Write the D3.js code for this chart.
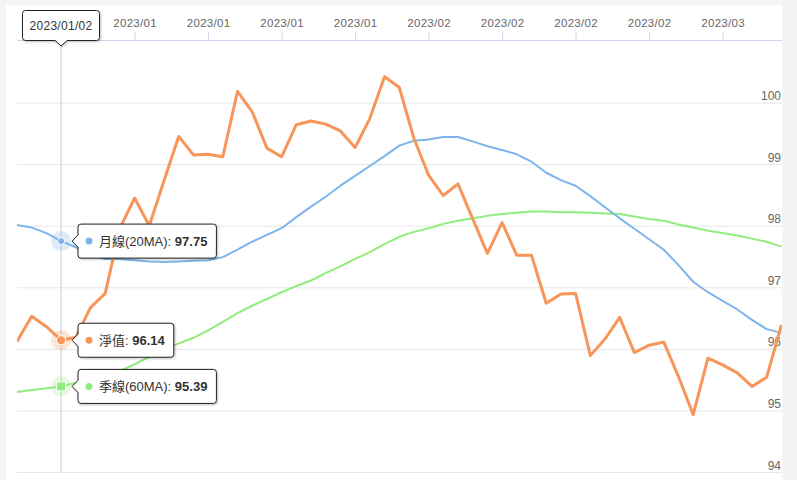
<!DOCTYPE html>
<html><head><meta charset="utf-8">
<script src="https://cdn.jsdelivr.net/npm/d3@7"></script>
<style>
html,body{margin:0;padding:0;background:#f4f4f4;}
svg{display:block;font-family:"Liberation Sans","Noto Sans CJK TC",Arial,sans-serif;}
</style></head>
<body>
<svg id="chart" width="797" height="480"></svg>
<script>
// ---- data ----
const dates = [
 "2022/12/28","2022/12/29","2022/12/30",
 "2023/01/02","2023/01/03","2023/01/04","2023/01/05","2023/01/06",
 "2023/01/09","2023/01/10","2023/01/11","2023/01/12","2023/01/13",
 "2023/01/16","2023/01/17","2023/01/18","2023/01/19","2023/01/20",
 "2023/01/23","2023/01/24","2023/01/25","2023/01/26","2023/01/27",
 "2023/01/30","2023/01/31","2023/02/01","2023/02/02","2023/02/03",
 "2023/02/06","2023/02/07","2023/02/08","2023/02/09","2023/02/10",
 "2023/02/13","2023/02/14","2023/02/15","2023/02/16","2023/02/17",
 "2023/02/20","2023/02/21","2023/02/22","2023/02/23","2023/02/24",
 "2023/02/27","2023/02/28","2023/03/01","2023/03/02","2023/03/03",
 "2023/03/06","2023/03/07","2023/03/08","2023/03/09","2023/03/10"
];
const navValues = [
 96.12,96.53,96.36,96.14,96.19,96.67,96.90,97.96,98.45,98.00,
 98.73,99.45,99.15,99.16,99.12,100.18,99.85,99.26,99.12,99.64,
 99.70,99.65,99.54,99.27,99.74,100.42,100.25,99.42,98.82,98.49,
 98.68,98.11,97.55,98.05,97.52,97.52,96.74,96.89,96.90,95.89,
 96.16,96.51,95.94,96.06,96.11,95.55,94.93,95.85,95.74,95.61,
 95.39,95.54,96.39
];
const ma20Values = [
 98.01,97.97,97.88,97.75,97.65,97.52,97.46,97.46,97.44,97.42,
 97.41,97.42,97.43,97.44,97.49,97.61,97.74,97.85,97.96,98.14,
 98.31,98.47,98.65,98.81,98.97,99.13,99.30,99.38,99.40,99.44,
 99.44,99.37,99.29,99.23,99.16,99.04,98.86,98.74,98.65,98.48,
 98.30,98.12,97.95,97.78,97.61,97.36,97.09,96.92,96.78,96.64,
 96.47,96.32,96.26
];
const ma60Values = [
 95.30,95.33,95.36,95.39,95.45,95.49,95.56,95.64,95.75,95.87,
 95.99,96.09,96.18,96.30,96.44,96.58,96.70,96.81,96.92,97.02,
 97.11,97.23,97.34,97.46,97.57,97.70,97.82,97.90,97.96,98.03,
 98.08,98.12,98.16,98.19,98.21,98.23,98.23,98.22,98.22,98.21,
 98.20,98.19,98.15,98.11,98.08,98.02,97.97,97.92,97.88,97.84,
 97.79,97.74,97.66
];
// tick at index 3 is hidden under the date tooltip in the reference
const xTickIndex = [8,13,18,23,28,33,38,43,48];
const yTicks = [94,95,96,97,98,99,100];
const seriesNames = ["月線(20MA)","淨值","季線(60MA)"];
const hoverIndex = 3;

// ---- layout ----
const svg = d3.select("#chart");
const colors = {ma20:"#7cb5ec", nav:"#f7955a", ma60:"#90ed7d"};
const plotL = 17, plotR = 782, plotT = 40, plotB = 472;

svg.append("rect").attr("x",6).attr("y",5).attr("width",776).attr("height",475).attr("fill","#ffffff");

const x = d3.scaleLinear().domain([0, dates.length-1]).range([17, 781.4]);
const y = d3.scaleLinear().domain([94, 101]).range([472, 41]);

const defs = svg.append("defs");
const f = defs.append("filter").attr("id","shadow").attr("x","-20%").attr("y","-20%").attr("width","150%").attr("height","160%");
f.append("feDropShadow").attr("dx",1).attr("dy",1).attr("stdDeviation",1.2).attr("flood-color","#000").attr("flood-opacity",0.25);
defs.append("clipPath").attr("id","clip").append("rect").attr("x",plotL).attr("y",plotT).attr("width",plotR-plotL).attr("height",plotB-plotT+2);

// grid + right labels
const yAxis = d3.axisRight(y).tickValues(yTicks).tickSize(plotR-plotL).tickFormat(d3.format("d"));
const gy = svg.append("g").attr("transform",`translate(${plotL},0)`).call(yAxis);
gy.select(".domain").remove();
gy.selectAll(".tick line").attr("stroke","#e6e6e6").attr("stroke-width",1);
gy.selectAll(".tick text").attr("x",plotR-plotL-1).attr("dy",-3).attr("text-anchor","end")
  .attr("fill","#666").style("font-size","12px").style("dominant-baseline","auto").attr("y",0);

// top x axis
const xAxis = d3.axisTop(x).tickValues(xTickIndex).tickSize(8).tickPadding(5)
  .tickFormat(i => dates[i].slice(0,7));
const gx = svg.append("g").attr("transform",`translate(0,${plotT})`).call(xAxis);
gx.select(".domain").attr("d",`M${plotL},0.5H${plotR}`).attr("stroke","#ccd6eb");
gx.selectAll(".tick line").attr("stroke","#ccd6eb");
gx.selectAll(".tick text").attr("fill","#666").style("font-size","11.5px").style("letter-spacing","0.3px");

// crosshair
svg.append("line").attr("x1",x(hoverIndex)).attr("x2",x(hoverIndex)).attr("y1",plotT).attr("y2",plotB)
  .attr("stroke","#cccccc").attr("stroke-width",1);

// lines
const line = d3.line().x((d,i)=>x(i)).y(d=>y(d));
const gl = svg.append("g").attr("clip-path","url(#clip)");
gl.append("path").datum(ma60Values).attr("d",line).attr("fill","none").attr("stroke",colors.ma60).attr("stroke-width",2).attr("stroke-linejoin","round");
gl.append("path").datum(ma20Values).attr("d",line).attr("fill","none").attr("stroke",colors.ma20).attr("stroke-width",2).attr("stroke-linejoin","round");
gl.append("path").datum(navValues).attr("d",line).attr("fill","none").attr("stroke",colors.nav).attr("stroke-width",3).attr("stroke-linejoin","round");

// hover markers
const hx = x(hoverIndex);
function halo(cy,c){ svg.append("circle").attr("cx",hx).attr("cy",cy).attr("r",10).attr("fill",c).attr("opacity",0.25); }
halo(y(ma20Values[hoverIndex]),colors.ma20);
halo(y(navValues[hoverIndex]),colors.nav);
halo(y(ma60Values[hoverIndex]),colors.ma60);
svg.append("circle").attr("cx",hx).attr("cy",y(ma20Values[hoverIndex])).attr("r",3.5).attr("fill",colors.ma20).attr("stroke","#fff").attr("stroke-width",1);
svg.append("circle").attr("cx",hx).attr("cy",y(navValues[hoverIndex])).attr("r",4.5).attr("fill",colors.nav).attr("stroke","#fff").attr("stroke-width",1);
svg.append("rect").attr("x",hx-4.5).attr("y",y(ma60Values[hoverIndex])-4.5).attr("width",9).attr("height",9).attr("fill",colors.ma60).attr("stroke","#fff").attr("stroke-width",1);

// tooltips
function sideTip(cy, color, label, value){
  const g = svg.append("g");
  const path = g.append("path");
  g.append("circle").attr("cx",89).attr("cy",cy).attr("r",3.5).attr("fill",color);
  const t = g.append("text").attr("x",99).attr("y",cy+4.5).attr("fill","#333").style("font-size","13px");
  t.append("tspan").text(label+": ");
  t.append("tspan").attr("font-weight","bold").text(value);
  const w = t.node().getComputedTextLength();
  const L = 78, R = 99 + w + 9, T = cy-17, B = cy+17, r = 3;
  const p = d3.path();
  p.moveTo(L+r,T); p.lineTo(R-r,T); p.arcTo(R,T,R,T+r,r); p.lineTo(R,B-r); p.arcTo(R,B,R-r,B,r);
  p.lineTo(L+r,B); p.arcTo(L,B,L,B-r,r); p.lineTo(L,cy+6); p.lineTo(L-6,cy); p.lineTo(L,cy-6);
  p.lineTo(L,T+r); p.arcTo(L,T,L+r,T,r); p.closePath();
  path.attr("d",p.toString()).attr("fill","#fff").attr("stroke","#222").attr("stroke-width",1).attr("filter","url(#shadow)");
}
sideTip(y(ma20Values[hoverIndex]), colors.ma20, seriesNames[0], ma20Values[hoverIndex].toFixed(2));
sideTip(y(navValues[hoverIndex]), colors.nav, seriesNames[1], navValues[hoverIndex].toFixed(2));
sideTip(y(ma60Values[hoverIndex]), colors.ma60, seriesNames[2], ma60Values[hoverIndex].toFixed(2));

// date tooltip at top
(function(){
  const g = svg.append("g");
  const L=22.5, R=99.5, T=10.5, B=40.5, r=3, tipY=46;
  const p = d3.path();
  p.moveTo(L+r,T); p.lineTo(R-r,T); p.arcTo(R,T,R,T+r,r); p.lineTo(R,B-r); p.arcTo(R,B,R-r,B,r);
  p.lineTo(hx+6,B); p.lineTo(hx,tipY); p.lineTo(hx-6,B);
  p.lineTo(L+r,B); p.arcTo(L,B,L,B-r,r); p.lineTo(L,T+r); p.arcTo(L,T,L+r,T,r); p.closePath();
  g.append("path").attr("d",p.toString()).attr("fill","#fff").attr("stroke","#222").attr("stroke-width",1).attr("filter","url(#shadow)");
  g.append("text").attr("x",(L+R)/2).attr("y",30).attr("text-anchor","middle").attr("fill","#333")
   .style("font-size","12px").style("letter-spacing","0.3px").text(dates[hoverIndex]);
})();
</script>
</body></html>
